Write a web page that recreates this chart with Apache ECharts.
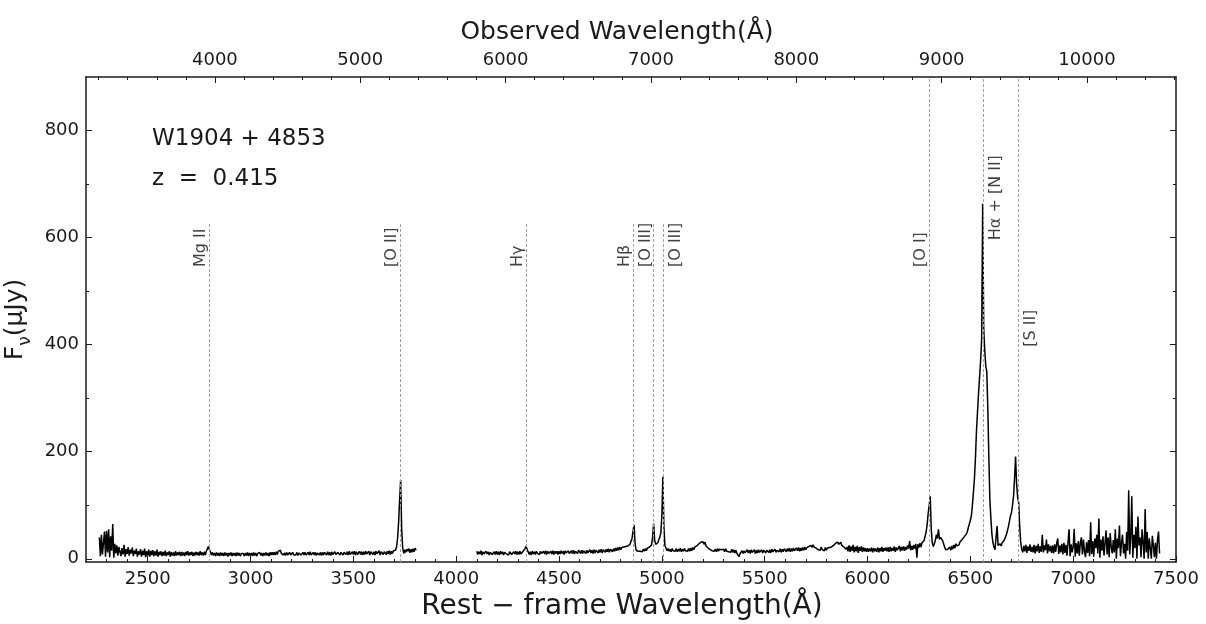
<!DOCTYPE html>
<html>
<head>
<meta charset="utf-8">
<script src="https://cdn.jsdelivr.net/npm/echarts@6/dist/echarts.min.js"></script>
<style>
  html, body { margin: 0; padding: 0; background: #fff; }
  #chart { width: 1206px; height: 624px; }
</style>
</head>
<body>
<div id="chart"></div>
<script>
// spectrum of W1904+4853, rest frame, flux in uJy
const redshift = 0.415;
const xMin = 2200, xMax = 7500;
const yMin = -6, yMax = 900;
const step = 5;       // angstrom between samples
const rowSpan = 100;  // each row below covers 100 angstrom

const restTicks = [2500, 3000, 3500, 4000, 4500, 5000, 5500, 6000, 6500, 7000, 7500];
const obsTicks = [4000, 5000, 6000, 7000, 8000, 9000, 10000];
const fluxTicks = [0, 200, 400, 600, 800];
const fluxMinorTicks = [100, 300, 500, 700];

// blue part, starts at 2265
const blueStart = 2265;
const blueFlux = [
  [40, 5, 45, 8, 30, 51, 4, 52, 12, 55, 3, 42, 15, 65, 2, 28, 10, 25, 6, 22],
  [24, 5, 20, 8, 26, 4, 18, 9, 22, 6, 17, 10, 21, 5, 15, 9, 19, 4, 14, 8],
  [18, 4, 15, 7, 19, 3, 14, 6, 17, 4, 15, 7, 16, 5, 14, 6, 17, 4, 13, 7],
  [14, 5, 13, 6, 15, 5, 12, 7, 14, 4, 13, 6, 12, 5, 14, 6, 12, 7, 13, 5],
  [13, 6, 12, 5, 13, 7, 14, 6, 12, 7, 13, 5, 12, 6, 13, 7, 12, 6, 14, 7],
  [12, 6, 13, 7, 14, 16, 23, 17, 13, 7, 12, 6, 11, 5, 12, 6, 11, 5, 12, 6],
  [11, 5, 12, 6, 11, 4, 11, 6, 12, 5, 11, 6, 11, 5, 12, 6, 11, 5, 10, 7],
  [10, 5, 11, 6, 12, 5, 11, 6, 11, 5, 12, 6, 11, 5, 10, 7, 12, 6, 11, 5],
  [11, 6, 12, 6, 11, 5, 12, 7, 12, 7, 12, 7, 13, 8, 14, 15, 16, 10, 12, 7],
  [11, 6, 12, 7, 10, 12, 7, 10, 12, 7, 10, 7, 12, 6, 11, 12, 7, 10, 12, 7],
  [12, 7, 10, 12, 7, 13, 7, 10, 12, 7, 12, 6, 11, 13, 7, 12, 6, 12, 7, 12],
  [12, 7, 13, 7, 12, 6, 13, 8, 11, 13, 8, 11, 12, 13, 7, 12, 14, 7, 12, 13],
  [8, 13, 7, 14, 8, 11, 13, 8, 14, 7, 13, 8, 11, 14, 8, 13, 7, 13, 8, 14],
  [9, 12, 14, 7, 13, 15, 8, 13, 7, 14, 9, 12, 15, 7, 13, 14, 8, 13, 15, 8],
  [14, 9, 15, 8, 14, 10, 15, 14, 16, 22, 38, 68, 110, 147, 55, 20, 10, 17, 12, 18],
  [14, 19, 11, 18, 12, 19, 13, 20, 16]
];

// red part, starts at 4100
const redStart = 4100;
const redFlux = [
  [14, 8, 13, 9, 15, 7, 13, 9, 8, 14, 9, 13, 7, 12, 14, 8, 9, 13, 8, 14],
  [8, 13, 7, 14, 9, 13, 7, 12, 14, 9, 12, 7, 13, 14, 8, 7, 13, 9, 14, 8],
  [13, 8, 14, 9, 12, 14, 16, 19, 24, 17, 13, 8, 13, 7, 14, 9, 13, 8, 14, 10],
  [13, 8, 14, 10, 8, 14, 9, 15, 8, 14, 10, 8, 14, 9, 15, 8, 14, 10, 14, 8],
  [14, 9, 15, 10, 14, 8, 15, 11, 9, 15, 10, 9, 15, 10, 16, 9, 14, 11, 10, 16],
  [15, 10, 16, 10, 15, 17, 10, 16, 11, 10, 17, 11, 16, 10, 17, 11, 16, 18, 11, 17],
  [12, 18, 11, 17, 19, 12, 18, 13, 19, 12, 18, 20, 13, 19, 14, 20, 15, 21, 16, 22],
  [17, 21, 18, 22, 19, 23, 20, 24, 25, 27, 30, 38, 52, 63, 28, 16, 19, 14, 17, 14],
  [17, 13, 18, 14, 19, 15, 20, 17, 22, 20, 26, 40, 66, 35, 27, 26, 30, 35, 40, 48],
  [80, 153, 60, 25, 20, 15, 19, 14, 18, 13, 19, 15, 18, 14, 19, 13, 18, 14, 20, 13],
  [18, 14, 19, 15, 18, 14, 19, 14, 20, 15, 21, 17, 22, 20, 24, 22, 28, 26, 31, 29],
  [32, 27, 31, 24, 26, 20, 22, 17, 19, 15, 18, 14, 18, 13, 19, 14, 18, 15, 17, 14],
  [18, 13, 19, 14, 17, 13, 16, 12, 18, 12, 17, 11, 16, 10, 12, 4, 10, 9, 15, 10],
  [15, 11, 14, 17, 11, 16, 10, 17, 12, 15, 17, 10, 16, 11, 17, 12, 14, 17, 11, 16],
  [17, 11, 16, 18, 12, 17, 11, 18, 13, 16, 18, 12, 16, 18, 13, 19, 12, 18, 13, 19],
  [18, 13, 19, 14, 20, 13, 19, 14, 20, 15, 18, 20, 15, 21, 14, 20, 15, 21, 16, 22],
  [17, 21, 18, 23, 20, 25, 21, 26, 22, 23, 20, 22, 17, 20, 16, 22, 17, 20, 15, 21],
  [16, 20, 17, 21, 18, 22, 19, 25, 23, 29, 26, 31, 27, 28, 31, 25, 27, 22, 24, 18],
  [22, 14, 25, 13, 23, 15, 26, 12, 22, 14, 24, 11, 22, 15, 23, 13, 21, 14, 20, 13],
  [20, 13, 19, 14, 21, 12, 20, 14, 19, 13, 21, 12, 20, 14, 22, 13, 20, 15, 21, 14],
  [21, 13, 22, 14, 20, 15, 23, 13, 21, 16, 19, 24, 14, 22, 16, 23, 15, 22, 17, 25],
  [19, 33, 16, 24, 17, 26, 19, 28, 2, 27, 21, 29, 22, 30, 27, 34, 32, 50, 64, 85],
  [100, 117, 55, 30, 23, 28, 35, 45, 38, 55, 36, 40, 39, 34, 28, 22, 17, 19, 18, 21],
  [22, 16, 24, 18, 26, 20, 28, 24, 27, 26, 32, 30, 36, 35, 41, 40, 46, 50, 58, 65],
  [72, 80, 100, 124, 150, 190, 240, 275, 310, 340, 370, 410, 663, 430, 390, 360, 350, 280, 190, 110],
  [75, 45, 30, 22, 17, 40, 61, 25, 22, 28, 24, 30, 27, 35, 40, 45, 52, 60, 70, 80],
  [86, 100, 117, 150, 191, 140, 115, 105, 60, 30, 18, 12, 24, 14, 26, 11, 23, 15, 27, 13],
  [22, 12, 26, 10, 24, 14, 28, 11, 23, 13, 45, 12, 25, 16, 36, 10, 27, 14, 24, 11],
  [25, 10, 27, 13, 29, 38, 9, 25, 12, 28, 8, 30, 11, 26, 6, 31, 55, 5, 27, 12],
  [22, 56, 4, 29, 10, 33, 6, 30, 40, 8, 36, 14, 3, 31, 11, 35, 5, 68, 9, 33],
  [4, 38, 20, 45, 10, 75, 2, 36, 15, 42, 6, 30, 53, 8, 40, 3, 48, 22, 10, 35],
  [12, 55, 0, 38, 20, 62, 5, 30, 45, 10, 28, 0, 50, 15, 128, 8, 40, 117, 2, 45],
  [20, 60, 0, 79, 25, 40, 3, 55, 30, 0, 93, 12, 50, 0, 38, 20, 0, 43, 25, 3],
  [30, 0, 35, 51, 10]
];

// emission lines
const lineNames = ['Mg II', '[O II]', 'H\u03b3', 'H\u03b2', '[O III]', '[O III]', '[O I]', 'H\u03b1 + [N II]', '[S II]'];
const lineWaves = [2798, 3727, 4340, 4861, 4959, 5007, 6300, 6563, 6731];
const lineTops = [625, 625, 625, 625, 625, 625, 900, 900, 900];
const labelStarts = [545, 545, 545, 545, 545, 545, 545, 595, 396];
const labelSides = ['left', 'left', 'left', 'left', 'left', 'right', 'left', 'right', 'right'];

const font = 'DejaVu Sans';
const ink = '#1a1a1a';

function toPairs(start, rows) {
  return rows.flatMap((row, r) => row.map((v, i) => [start + r * rowSpan + i * step, v]));
}

function range(a, b, d) {
  const out = [];
  for (let v = a; v <= b; v += d) out.push(v);
  return out;
}

const restMinor = range(2300, 7400, 100);
const obsMinor = range(3200, 10600, 200).map(o => o / (1 + redshift));
const obsMajor = obsTicks.map(o => o / (1 + redshift));

function xAxisOf(position, ticks, len, labels) {
  return {
    type: 'value', min: xMin, max: xMax, position: position,
    axisLine: { show: !!labels, onZero: false, lineStyle: { color: ink, width: 1.5 } },
    axisTick: { show: true, inside: true, length: len, customValues: ticks, lineStyle: { color: ink, width: 1 } },
    axisLabel: labels ? Object.assign({ customValues: ticks, fontSize: 18, color: ink, fontFamily: font, margin: 8 }, labels) : { show: false },
    splitLine: { show: false }
  };
}

function yAxisOf(position, ticks, len, labels) {
  return {
    type: 'value', min: yMin, max: yMax, position: position,
    axisLine: { show: len > 4, onZero: false, lineStyle: { color: ink, width: 1.5 } },
    axisTick: { show: true, inside: true, length: len, customValues: ticks, lineStyle: { color: ink, width: 1 } },
    axisLabel: labels ? { customValues: ticks, fontSize: 18, color: ink, fontFamily: font, margin: 7, formatter: v => String(v) } : { show: false },
    splitLine: { show: false }
  };
}

const chart = echarts.init(document.getElementById('chart'));

const bottomAxis = xAxisOf('bottom', restTicks, 6, { formatter: v => String(v) });
bottomAxis.name = 'Rest \u2212 frame Wavelength(\u00c5)';
bottomAxis.nameLocation = 'middle';
bottomAxis.nameGap = 27;
// right padding nudges the centred title a little to the left
bottomAxis.nameTextStyle = { fontSize: 28, color: ink, fontFamily: font, verticalAlign: 'top', padding: [0, 18, 0, 0] };

const topAxis = xAxisOf('top', obsMajor, 6, { formatter: v => String(Math.round(v * (1 + redshift))) });
topAxis.name = 'Observed Wavelength(\u00c5)';
topAxis.nameLocation = 'middle';
topAxis.nameGap = 32;
topAxis.nameTextStyle = { fontSize: 25, color: ink, fontFamily: font, verticalAlign: 'bottom', padding: [0, 28, 0, 0] };

const leftAxis = yAxisOf('left', fluxTicks, 6, true);
leftAxis.name = '{a|F}{s|\u03bd}{a|(\u03bcJy)}';
leftAxis.nameLocation = 'middle';
leftAxis.nameGap = 41;
leftAxis.nameTextStyle = {
  color: ink, fontFamily: font,
  rich: {
    a: { fontSize: 25, color: ink, fontFamily: font },
    s: { fontSize: 17, color: ink, fontFamily: font, padding: [20, 0, 0, 0] }
  }
};

const option = {
  animation: false,
  backgroundColor: '#fff',
  title: [
    { text: 'W1904 + 4853', left: 147, top: 123, textStyle: { fontSize: 23, fontWeight: 'normal', color: ink, fontFamily: font } },
    { text: 'z  =  0.415', left: 147, top: 163, textStyle: { fontSize: 23, fontWeight: 'normal', color: ink, fontFamily: font } }
  ],
  grid: { left: 86, right: 30, top: 77, bottom: 62, containLabel: false, outerBoundsMode: 'none' },
  xAxis: [
    bottomAxis,
    xAxisOf('bottom', restMinor, 3, null),
    topAxis,
    xAxisOf('top', obsMinor, 3, null)
  ],
  yAxis: [
    leftAxis,
    yAxisOf('left', fluxMinorTicks, 3, false),
    yAxisOf('right', fluxTicks, 6, false),
    yAxisOf('right', fluxMinorTicks, 3, false)
  ],
  series: [
    {
      name: 'blue', type: 'line', xAxisIndex: 0, yAxisIndex: 0,
      data: toPairs(blueStart, blueFlux),
      symbol: 'none', silent: true,
      lineStyle: { color: '#000', width: 1.5 },
      markLine: {
        silent: true, symbol: ['none', 'none'], animation: false,
        label: { show: false },
        lineStyle: { type: [3, 2], color: '#a0a0a0', width: 1 },
        data: lineWaves.map((w, i) => [{ coord: [w, yMin] }, { coord: [w, lineTops[i]] }])
      }
    },
    {
      name: 'red', type: 'line', xAxisIndex: 0, yAxisIndex: 0,
      data: toPairs(redStart, redFlux),
      symbol: 'none', silent: true,
      lineStyle: { color: '#000', width: 1.5 }
    },
    {
      name: 'labels', type: 'scatter', xAxisIndex: 0, yAxisIndex: 0,
      symbolSize: 0, silent: true,
      data: lineWaves.map((w, i) => ({
        value: [w, labelStarts[i]],
        label: {
          show: true, formatter: lineNames[i], rotate: 90,
          position: [0, 0],
          // offset is applied in the rotated frame
          offset: labelSides[i] === 'left' ? [0, 0] : [0, 5],
          align: 'left',
          verticalAlign: labelSides[i] === 'left' ? 'bottom' : 'top',
          fontSize: 16, color: '#111', fontFamily: font
        }
      }))
    }
  ]
};

chart.setOption(option);
</script>
</body>
</html>
